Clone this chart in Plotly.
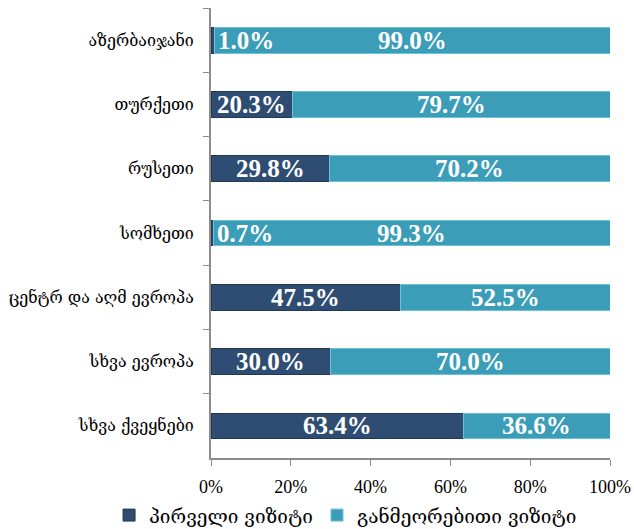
import plotly.graph_objects as go

categories = ["აზერბაიჯანი", "თურქეთი", "რუსეთი", "სომხეთი",
              "ცენტრ და აღმ ევროპა", "სხვა ევროპა", "სხვა ქვეყნები"]
first_visit = [1.0, 20.3, 29.8, 0.7, 47.5, 30.0, 63.4]
repeat_visit = [99.0, 79.7, 70.2, 99.3, 52.5, 70.0, 36.6]
series_names = ["პირველი ვიზიტი", "განმეორებითი ვიზიტი"]
x_ticks = [0, 20, 40, 60, 80, 100]

DARK = "#2f4d73"
TEAL = "#3b9db8"
FONT = "Liberation Serif, DejaVu Serif, serif"

fig = go.Figure()
fig.add_trace(go.Bar(y=categories, x=first_visit, orientation="h", name=series_names[0],
                     legend="legend", showlegend=True,
                     marker=dict(color=DARK, line=dict(color="#22384f", width=1))))
fig.add_trace(go.Bar(y=categories, x=repeat_visit, orientation="h", name=series_names[1],
                     legend="legend2", showlegend=True,
                     marker=dict(color=TEAL, line=dict(color="#6cc3d8", width=1))))

annotations = []
lab_font = dict(family=FONT, size=25, color="white", weight="bold")
for c, f, r in zip(categories, first_visit, repeat_visit):
    if f < 5:
        annotations.append(dict(x=f, y=c, text=f"{f:.1f}%", showarrow=False,
                                xanchor="left", xshift=1, font=lab_font))
    else:
        annotations.append(dict(x=f / 2, y=c, text=f"{f:.1f}%", showarrow=False,
                                xanchor="center", font=lab_font))
    annotations.append(dict(x=f + r / 2, y=c, text=f"{r:.1f}%", showarrow=False,
                            xanchor="center", font=lab_font))

leg_common = dict(orientation="h", xref="container", yref="container", visible=True,
                  xanchor="left", y=0.026, yanchor="middle", bgcolor="rgba(0,0,0,0)",
                  font=dict(size=19, family="DejaVu Serif, serif"))

fig.update_layout(
    barmode="stack",
    bargap=0.6,
    showlegend=True,
    width=634, height=529,
    margin=dict(l=211, r=24, t=8, b=71, autoexpand=False),
    paper_bgcolor="white", plot_bgcolor="white",
    font=dict(family=FONT, color="black"),
    annotations=annotations,
    legend=dict(x=0.172, **leg_common),
    legend2=dict(x=0.5, **leg_common),
    xaxis=dict(range=[0, 100], tickvals=x_ticks, ticktext=[f"{t}%" for t in x_ticks],
               showgrid=False, zeroline=False, showline=True, linecolor="#8c8c8c",
               linewidth=2, ticks="outside", ticklen=6, tickcolor="#8c8c8c",
               automargin=False, ticklabelstandoff=5, tickfont=dict(size=18, family=FONT)),
    yaxis=dict(autorange="reversed", showgrid=False, showline=True, linecolor="#8c8c8c",
               linewidth=2, ticks="outside", ticklen=6, tickcolor="#8c8c8c",
               automargin=False, ticklabelstandoff=12,
               tickson="boundaries", tickfont=dict(size=16, family="DejaVu Serif, serif")),
)

fig.write_html("out.html", config={"displayModeBar": False},
               post_script="document.body.style.margin='0';")
